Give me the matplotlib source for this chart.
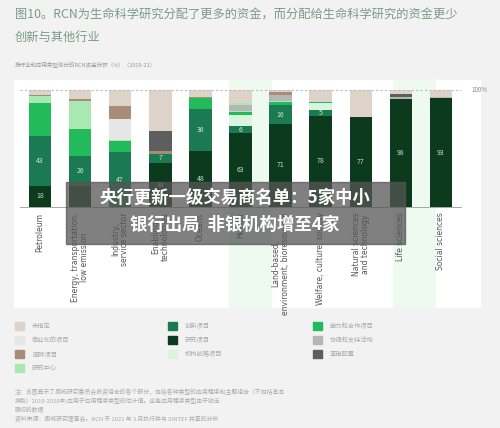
import numpy as np
import matplotlib.pyplot as plt
from matplotlib.patches import Rectangle

plt.rcParams['font.family'] = ['Noto Sans CJK SC', 'DejaVu Sans']

categories = ['Petroleum', 'Energy, transportation,\nlow emission', 'Industry,\nservice sector',
              'Enabling\ntechnologies', 'Oceans', 'Health', 'Land-based,\nenvironment, bioresources',
              'Welfare, culture, society', 'Natural sciences\nand technology', 'Life sciences',
              'Social sciences']

# stacking order, bottom to top
research      = [18, 18, 0, 38, 48, 63, 71, 78, 77, 92, 93]
innovation    = [43, 26, 47, 7, 36, 6, 16, 5, 0, 0, 0]
strategic     = [0, 0, 0, 0, 0, 10, 0, 6, 0, 0, 0]
capability    = [28, 23, 9, 0, 9, 2, 3, 1, 0, 0, 0]
res_center    = [6, 24, 1, 0, 0, 1, 1, 0, 0, 0, 0]
commercial    = [0, 0, 18, 0, 0, 0, 0, 0, 0, 0, 0]
coordination  = [0, 0, 0, 0, 0, 5, 5, 0, 0, 2, 1]
research_c2   = [0, 0, 0, 0, 0, 2, 0, 0, 0, 0, 0]
international = [1, 1, 11, 3, 1, 0, 2, 0, 0, 0, 0]
infrastructure = [0, 0, 0, 17, 0, 0, 0, 0, 0, 3, 0]
unspecified   = [4, 8, 14, 35, 6, 11, 2, 10, 23, 3, 6]

labels_research = [18, None, None, 38, 48, 63, 71, 78, 77, 98, 93]
labels_innov = [43, 26, 47, 7, 36, 6, 16, 5, None, None, None]

stack = [
    (research, '#0c3a1d'), (innovation, '#1c7a52'), (strategic, '#d9f5de'),
    (capability, '#22bb5c'), (res_center, '#a9e8b1'), (commercial, '#e6e6e6'),
    (coordination, '#b6b6b6'), (research_c2, '#a9e8b1'), (international, '#a98c75'),
    (infrastructure, '#5e5e5e'), (unspecified, '#ddd3c9'),
]

W, H = 500, 428
fig = plt.figure(figsize=(W / 100, H / 100), dpi=100)
fig.patch.set_facecolor('#f2f2f2')

def px(x, y, w, h):
    return [x / W, 1 - (y + h) / H, w / W, h / H]

# white panel
fig.patches.append(Rectangle((14 / W, 1 - 307 / H), 466 / W, 227 / H,
                             transform=fig.transFigure, color='white', zorder=-2))
# highlighted columns
for cx in [250, 414]:
    fig.patches.append(Rectangle(((cx - 21) / W, 1 - 307 / H), 42 / W, 227 / H,
                                 transform=fig.transFigure, color='#eef9f0', zorder=-1))

ax = fig.add_axes(px(20, 90, 441, 117))
ax.set_zorder(1)
ax.patch.set_alpha(0)
x = np.arange(len(categories))
bottom = np.zeros(len(categories))
for vals, col in stack:
    vals = np.array(vals, dtype=float)
    ax.bar(x, vals, 0.56, bottom=bottom, color=col, linewidth=0)
    bottom += vals

for i in range(len(categories)):
    if labels_research[i] is not None and research[i] > 0:
        ax.text(i, research[i] / 2, str(labels_research[i]), ha='center', va='center',
                color='#cfd8d0', fontsize=5)
    if labels_innov[i] is not None:
        ax.text(i, research[i] + innovation[i] / 2, str(labels_innov[i]), ha='center',
                va='center', color='#cfe3d8', fontsize=5)

ax.axhline(100, color='#bbbbbb', lw=0.8, ls=(0, (2, 2)), clip_on=False)
ax.text(10.75, 100, '100%', fontsize=4.5, color='#888888', va='center')
ax.set_xlim(-0.5, 10.5)
ax.set_ylim(0, 100)
for s in ['top', 'right', 'left']:
    ax.spines[s].set_visible(False)
ax.spines['bottom'].set_color('#999999')
ax.spines['bottom'].set_linewidth(0.6)
ax.set_yticks([])
ax.set_xticks(x)
ax.set_xticklabels(categories, rotation=90, fontsize=5.5, color='#555555',
                   family=['DejaVu Sans'], linespacing=1.0)
ax.tick_params(axis='x', length=0, pad=4)

# titles
fig.text(15 / W, 1 - 15 / H, '图10。RCN为生命科学研究分配了更多的资金，而分配给生命科学研究的资金更少',
         fontsize=8.8, color='#7a9a86', va='center')
fig.text(15 / W, 1 - 37 / H, '创新与其他行业', fontsize=8.8, color='#7a9a86', va='center')
fig.text(15 / W, 1 - 65 / H, '按行业和应用类型划分的RCN资金份额（%）（2019-21）',
         fontsize=4, color='#999999', va='center')

# legend
legend_items = [
    ('未指定', '#ddd3c9'), ('创新项目', '#1c7a52'), ('能力和合作项目', '#22bb5c'),
    ('商业化的项目', '#e6e6e6'), ('研究项目', '#0c3a1d'), ('协调和支持活动', '#b6b6b6'),
    ('国际项目', '#a98c75'), ('机构战略项目', '#d9f5de'), ('基础配置', '#5e5e5e'),
    ('研究中心', '#a9e8b1'),
]
cols_x = [15, 168, 313]
for k, (lab, col) in enumerate(legend_items):
    r, c = divmod(k, 3)
    lx, ly = cols_x[c], 326 + r * 14
    fig.patches.append(Rectangle((lx / W, 1 - (ly + 4) / H), 9 / W, 8 / H,
                                 transform=fig.transFigure, color=col))
    fig.text((lx + 17) / W, 1 - ly / H, lab, fontsize=4.5, color='#aaaaaa', va='center')

notes = ['注：该图显示了挪威研究委员会投资组合的各个部分，包括各种类型的应用程序和主题组合（不包括基本',
         '拨款）2019-2020年;应用于应用程序类型的估计值。这些应用程序类型由于缺乏',
         '确切的数据',
         '资料来源：挪威研究理事会。RCN 于 2021 年 3 月执行并与 SINTEF 共享的分析']
for i, t in enumerate(notes):
    fig.text(15 / W, 1 - (392 + i * 9) / H, t, fontsize=4.2, color='#aaaaaa', va='center')

# overlay banner
fig.patches.append(Rectangle((66 / W, 1 - 244 / H), 339 / W, 62 / H,
                             transform=fig.transFigure, color='#555555', alpha=0.75, zorder=5))
fig.text(235 / W, 1 - 198 / H, '央行更新一级交易商名单：5家中小', fontsize=12.5,
         color='white', weight='bold', ha='center', va='center', zorder=6)
fig.text(235 / W, 1 - 225 / H, '银行出局  非银机构增至4家', fontsize=12.5,
         color='white', weight='bold', ha='center', va='center', zorder=6)

fig.savefig('out.png', dpi=100, facecolor=fig.get_facecolor())
